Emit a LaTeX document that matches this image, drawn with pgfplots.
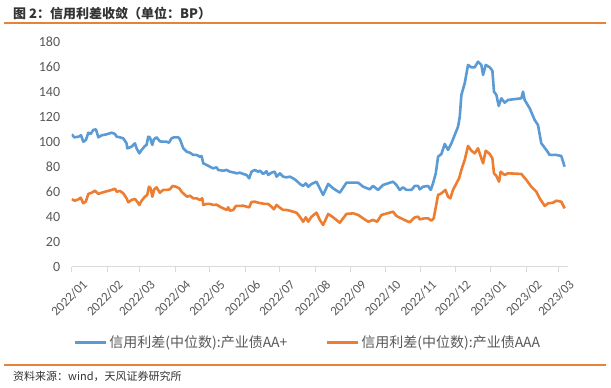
\documentclass[border=0pt]{standalone}
\usepackage{fontspec}
\setmainfont{Carlito}
\newfontfamily\cjk{Noto Sans CJK SC}
\usepackage{pgfplots}
\pgfplotsset{compat=1.18}
\definecolor{serA}{HTML}{5B9BD5}
\definecolor{serB}{HTML}{ED7D31}
\definecolor{rulec}{HTML}{E8823A}
\definecolor{tickc}{HTML}{595959}
\definecolor{axisgray}{HTML}{D9D9D9}
\begin{document}
\begin{tikzpicture}
\path[use as bounding box, fill=white] (0,0) rectangle (611bp,388bp);
\node[anchor=west, inner sep=0pt, font=\cjk\bfseries\fontsize{13bp}{15bp}\selectfont, text=black!80] at (13bp,375bp) {图 2：信用利差收敛（单位：BP）};
\draw[rulec, line width=1.3bp] (4bp,365bp) -- (606bp,365bp);
\draw[rulec, line width=1.3bp] (4bp,23bp) -- (606bp,23bp);
\node[anchor=west, inner sep=0pt, font=\cjk\fontsize{11bp}{13bp}\selectfont, text=black!80] at (13bp,12bp) {资料来源：wind，天风证券研究所};
\begin{axis}[
  at={(71.7bp,121.3bp)}, anchor=south west,
  scale only axis, width=496bp, height=225bp,
  xmin=0, xmax=432, ymin=0, ymax=180,
  axis x line*=bottom, axis y line*=left,
  y axis line style={draw=none},
  x axis line style={draw=axisgray, line width=1bp, -},
  xtick={0,31,59,90,120,151,181,212,243,273,304,334,365,396,424},
  xticklabels={2022/01,2022/02,2022/03,2022/04,2022/05,2022/06,2022/07,2022/08,2022/09,2022/10,2022/11,2022/12,2023/01,2023/02,2023/03},
  xtick style={draw=axisgray, line width=1bp},
  tick align=outside, major tick length=5bp,
  ytick={0,20,...,180}, ytick style={draw=none},
  tick label style={text=tickc},
  yticklabel style={font=\fontsize{14bp}{16bp}\selectfont, xshift=-3bp},
  /pgf/number format/assume math mode=true,
  xticklabel style={font=\fontsize{13bp}{15bp}\selectfont, rotate=45, anchor=north east, inner sep=0pt, xshift=2bp, yshift=-12bp},
  legend columns=2,
  legend cell align=left,
  legend style={at={(0.476,-0.335)}, anchor=center, draw=none, fill=none,
    font=\cjk\fontsize{14bp}{16bp}\selectfont, text=tickc,
    /tikz/every even column/.append style={column sep=36bp}},
  legend image code/.code={\draw[#1, line width=3bp] (0bp,0bp) -- (31bp,0bp);},
]
\addplot[serA, line width=2.6bp, line join=round] coordinates {
(0,105.9)(2.3,103.5)(5.8,104.0)(8.1,105.1)(10.1,100.0)(12.4,101.4)(14.5,107.2)(16.5,106.2)(18.8,109.4)(21.1,109.9)
(23.2,103.5)(26.1,105.1)(30.4,105.9)(34.8,107.2)(37.7,106.2)(39.1,104.0)(42.0,103.5)(44.9,102.7)(47.8,98.7)(48.4,94.7)
(52.2,96.0)(55.1,98.7)(56.5,94.7)(58.9,90.7)(60.9,93.4)(63.8,96.6)(65.2,97.4)(66.7,104.0)(68.1,103.5)(70.2,97.4)
(71.6,101.9)(73.9,103.5)(76.8,100.3)(79.2,100.0)(82.6,100.0)(84.7,99.2)(87.0,102.7)(89.0,103.5)(92.8,103.5)(94.3,101.9)
(97.2,94.7)(100.1,92.0)(103.0,91.2)(105.9,89.4)(108.8,89.4)(111.7,88.0)(113.1,88.6)(114.6,82.7)(117.5,81.4)(120.4,80.0)
(123.3,78.7)(126.2,79.5)(127.6,77.4)(132.0,76.8)(134.9,77.4)(137.8,76.0)(140.7,75.5)(143.6,74.7)(146.5,75.2)(149.4,74.2)
(152.3,73.4)(154.6,70.7)(156.6,76.0)(159.5,77.4)(162.4,76.0)(163.9,76.8)(166.8,74.2)(169.7,76.3)(171.1,73.4)(174.0,75.2)
(176.9,76.0)(178.4,72.0)(181.3,74.7)(184.2,72.0)(187.1,71.5)(190.0,72.0)(192.9,70.7)(195.8,68.8)
(198.7,66.2)(201.6,64.6)(203.9,66.7)(206.0,64.0)(208.9,66.2)(213.2,68.0)(216.1,62.7)(219.0,57.4)(223.4,66.2)(227.7,62.7)
(233.5,59.2)(239.3,67.2)(245.1,67.2)(249.5,67.2)(253.8,64.0)(259.6,61.9)(262.5,64.6)(266.9,61.4)(271.2,65.4)(279.9,68.0)
(282.8,65.4)(285.7,61.4)(288.6,63.5)(291.5,61.4)(295.9,61.4)(298.8,64.6)(301.7,64.6)(303.1,61.9)(306.0,64.0)(310.4,64.6)
(312.7,61.4)(314.7,66.7)(317.1,74.7)(319.1,88.0)(322.0,90.2)(324.9,98.2)(327.8,93.4)(330.7,98.7)(333.6,105.4)(336.5,112.0)
(338.0,120.0)(339.4,137.4)(342.3,146.7)(345.2,161.4)(348.1,159.5)(351.0,159.5)(353.9,164.0)(356.8,161.4)(358.3,153.4)(360.6,161.4)
(364.1,159.5)(366.4,156.8)(367.8,140.0)(369.9,137.4)(371.9,128.6)(374.2,134.7)(377.1,131.2)(380.0,133.4)(391.6,134.7)(393.1,140.0)
(394.5,133.4)(398.9,126.7)(403.2,117.4)(406.1,113.4)(409.0,98.7)(413.4,93.4)(416.3,89.4)(422.1,89.4)(426.4,88.6)(429.3,80.0)
};
\addlegendentry{信用利差(中位数):产业债AA+}
\addplot[serB, line width=2.6bp, line join=round] coordinates {
(0,53.9)(2.9,52.8)(5.8,53.9)(7.8,55.2)(10.1,50.7)(12.4,52.3)(14.5,58.2)(17.4,59.2)(20.3,60.8)(23.2,58.2)
(26.1,59.2)(30.4,60.3)(34.8,61.4)(37.7,62.4)(39.1,60.0)(42.0,60.6)(44.9,58.7)(47.8,54.7)(49.3,51.5)(52.2,53.4)
(55.1,54.2)(57.1,52.0)(58.9,49.4)(60.9,52.8)(63.8,56.0)(65.8,57.4)(67.3,64.0)(68.7,62.7)(70.2,56.0)(71.9,61.9)
(73.9,63.5)(76.8,59.2)(79.7,61.4)(82.6,61.4)(85.5,61.9)(87.9,64.6)(90.8,64.0)(93.7,62.7)(95.7,60.0)(98.6,57.4)
(100.6,56.0)(103.0,56.8)(105.9,54.7)(108.8,54.7)(111.7,53.4)(113.7,54.7)(114.6,49.4)(117.5,50.2)(120.4,50.2)(123.3,49.4)
(126.2,49.6)(129.1,48.0)(132.0,46.7)(134.9,45.4)(136.3,47.5)(137.8,44.8)(140.7,45.4)(143.0,48.6)(146.5,48.6)(149.4,48.8)
(152.3,48.0)(154.6,47.5)(156.6,51.8)(159.5,52.0)(162.4,51.2)(165.3,50.7)(168.2,50.2)(171.1,50.2)(174.0,48.0)(176.1,45.9)
(178.4,49.4)(181.3,47.2)(184.2,45.4)(187.1,45.4)(190.0,44.8)(192.9,44.0)(195.8,43.2)
(198.7,40.0)(201.6,36.0)(203.9,39.5)(206.0,36.0)(208.9,40.0)(213.2,43.2)(216.1,37.4)(219.0,33.4)(223.4,42.2)(227.7,39.5)
(233.5,35.2)(239.3,42.2)(245.1,42.7)(249.5,41.4)(253.8,38.7)(258.2,36.0)(262.5,37.4)(266.0,36.0)(269.8,41.4)(279.9,44.0)
(282.8,40.6)(288.6,37.9)(294.4,35.5)(298.8,39.5)(301.7,40.0)(303.1,37.9)(307.5,38.7)(310.4,38.7)(313.3,36.8)(315.3,38.7)
(319.1,57.4)(322.0,58.7)(325.5,61.4)(327.8,56.0)(329.8,54.7)(332.1,61.4)(335.1,66.7)(337.4,70.7)(339.4,77.4)(342.3,85.4)
(345.2,96.6)(348.1,92.8)(351.0,90.7)(353.9,94.7)(356.8,86.7)(358.3,82.7)(360.6,92.8)(364.1,90.2)(366.4,86.7)(367.8,74.7)
(369.9,72.6)(372.2,68.0)(373.6,76.0)(377.1,73.4)(380.0,74.7)(391.6,74.2)(396.0,69.4)(400.3,64.0)(404.7,60.0)(407.6,54.7)
(412.0,48.6)(414.9,50.7)(419.2,51.2)(422.1,52.8)(426.4,52.0)(429.3,46.7)
};
\addlegendentry{信用利差(中位数):产业债AAA}
\end{axis}
\end{tikzpicture}
\end{document}
